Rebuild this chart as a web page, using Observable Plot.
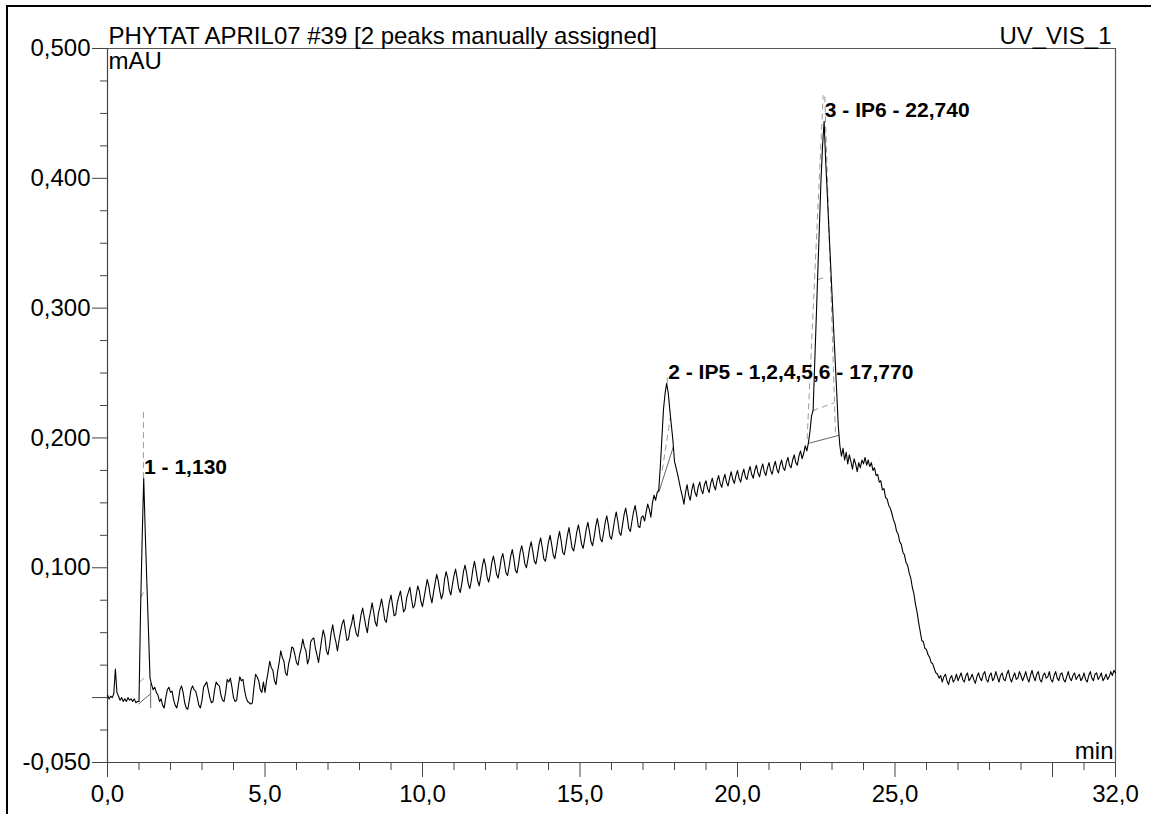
<!DOCTYPE html>
<html>
<head>
<meta charset="utf-8">
<script src="https://cdn.jsdelivr.net/npm/d3@7"></script>
<script src="https://cdn.jsdelivr.net/npm/@observablehq/plot@0.6"></script>
<style>
  html, body { margin: 0; padding: 0; background: #fff; overflow: hidden; }
  #wrap { position: relative; width: 1151px; height: 814px; }
  #border { position: absolute; left: 6px; top: 5px; width: 1200px; height: 900px;
            border-left: 2.5px solid #000; border-top: 2.5px solid #000; pointer-events: none; }
  svg { display: block; }
</style>
</head>
<body>
<div id="wrap"><div id="border"></div></div>
<script>
// ---------- data ----------
const title = "PHYTAT APRIL07 #39 [2 peaks manually assigned]";
const channel = "UV_VIS_1";
const yUnit = "mAU";
const xUnit = "min";

// detector signal, sampled every 0.05 min from 0,0 to 32,0 (values in 1/1000 of the axis unit)
const sampleStep = 0.05;
const signal = [
  2, -1, 1, 0, 3, 22, 4, 1, -2, 0, -3, -1, -3, 0, -2, -1, -3, -1, -4, -3,            // 0
  -3, 68, 122, 169, 126, 88, 52, 15, 10, 6, 8, 4, 2, -3, -1, -6, -8, 0, 6, 8,         // 1
  4, 5, -2, -6, -8, -2, 6, 9, 4, -4, -8, -9, -2, 6, 9, 6, 5, 0, -6, -8,               // 2
  -2, 8, 10, 12, 6, 0, -4, -3, 6, 12, 10, 9, 2, -2, -3, 4, 14, 12, 15, 8,             // 3
  0, -3, -2, 8, 16, 13, 14, 6, 0, -3, -4, -5, -4, 8, 18, 16, 13, 6, 4, 12,            // 4
  4, 13, 20, 28, 23, 21, 13, 10, 20, 27, 36, 31, 28, 19, 17, 26, 31, 39, 38, 33,      // 5
  27, 25, 33, 38, 45, 39, 36, 26, 30, 43, 45, 46, 38, 33, 27, 36, 45, 52, 47, 36,     // 6
  33, 40, 50, 56, 48, 43, 36, 44, 51, 57, 60, 52, 44, 45, 53, 57, 64, 55, 49, 47,     // 7
  56, 64, 69, 62, 55, 50, 60, 66, 73, 66, 58, 55, 65, 70, 76, 69, 60, 58, 66, 74,     // 8
  79, 71, 63, 64, 73, 78, 82, 74, 66, 68, 77, 81, 85, 76, 69, 71, 79, 86, 82, 74,     // 9
  70, 77, 84, 91, 86, 78, 73, 81, 88, 95, 90, 82, 76, 80, 91, 97, 92, 83, 79, 87,     // 10
  94, 99, 92, 84, 81, 88, 97, 102, 96, 88, 84, 90, 99, 105, 98, 90, 86, 93, 101, 107, // 11
  102, 93, 89, 95, 104, 109, 103, 95, 92, 99, 107, 111, 104, 96, 94, 101, 109, 114, 107, 98, // 12
  96, 103, 112, 117, 111, 103, 100, 107, 115, 120, 113, 105, 103, 110, 118, 123, 116, 107, 105, 112, // 13
  120, 125, 118, 110, 107, 114, 122, 128, 121, 112, 110, 117, 125, 131, 123, 115, 113, 120, 128, 133, // 14
  126, 118, 115, 122, 130, 135, 128, 120, 117, 124, 132, 138, 131, 122, 120, 127, 135, 140, 133, 124, // 15
  122, 129, 137, 143, 136, 127, 125, 133, 141, 146, 139, 130, 128, 136, 143, 148, 141, 132, 131, 139, // 16
  140, 136, 143, 149, 145, 139, 150, 156, 152, 158, 160, 178, 200, 222, 234, 242, 235, 222, 210, 198, // 17
  182, 177, 172, 166, 160, 155, 149, 158, 164, 156, 152, 160, 165, 158, 155, 162, 166, 160, 157, 164, // 18
  167, 161, 158, 165, 169, 163, 160, 167, 171, 165, 162, 168, 172, 166, 163, 169, 174, 168, 165, 171, // 19
  175, 169, 166, 172, 176, 170, 168, 174, 178, 172, 169, 175, 179, 173, 170, 176, 180, 174, 171, 177, // 20
  181, 175, 172, 178, 182, 176, 173, 179, 183, 177, 175, 181, 185, 179, 177, 183, 187, 181, 179, 186, // 21
  190, 184, 188, 194, 190, 196, 205, 217, 221, 257, 292, 328, 363, 398, 425, 444, 413, 388, 362, 337, // 22
  311, 285, 260, 235, 209, 194, 186, 192, 183, 189, 180, 187, 182, 176, 184, 180, 174, 181, 177, 183, // 23
  180, 185, 179, 183, 178, 181, 175, 177, 171, 172, 166, 167, 160, 161, 154, 153, 148, 146, 142, 137, // 24
  134, 128, 126, 120, 118, 112, 110, 104, 102, 96, 92, 85, 80, 72, 66, 58, 51, 44, 43, 38,           // 25
  37, 33, 31, 27, 26, 22, 19, 18, 15, 17, 12, 16, 18, 13, 10, 15, 17, 12, 14, 18,                   // 26
  13, 16, 19, 14, 12, 17, 19, 13, 15, 18, 14, 11, 16, 19, 15, 13, 18, 20, 14, 12,                   // 27
  17, 19, 13, 15, 20, 16, 12, 17, 19, 14, 13, 18, 21, 15, 12, 16, 19, 14, 15, 20,                   // 28
  17, 13, 16, 20, 15, 12, 17, 21, 16, 13, 18, 20, 14, 12, 17, 19, 15, 16, 20, 14,                   // 29
  12, 17, 20, 15, 13, 18, 19, 14, 12, 16, 20, 15, 13, 17, 19, 14, 16, 18, 13, 15,                   // 30
  19, 14, 12, 17, 20, 15, 13, 18, 19, 14, 16, 19, 13, 15, 18, 14, 16, 20, 17, 21,                   // 31
  19                                                                                                  // 32
];

// peaks
const peakNames = ["1 - 1,130", "2 - IP5 - 1,2,4,5,6 - 17,770", "3 - IP6 - 22,740"];
const peakTimes = [1.13, 17.77, 22.74];
const peakHeights = [169, 242, 444];

// integration baselines / delimiters (solid) : [t1, v1, t2, v2]
const solidT1 = [0.98, 1.37, 17.50, 22.28];
const solidV1 = [-5, 11, 158, 196];
const solidT2 = [1.37, 1.37, 17.96, 23.22];
const solidV2 = [3, -8, 193, 202];

// peak construction lines (dashed)
const dashT1 = [1.14, 1.05, 1.02, 17.77, 17.61, 22.21, 22.77, 22.54, 22.38];
const dashV1 = [169, 77, 12, 242, 175, 199, 463, 322, 221];
const dashT2 = [1.14, 1.21, 1.24, 17.77, 17.87, 22.72, 23.11, 22.83, 23.06];
const dashV2 = [221, 84, 17, 250, 216, 464, 203, 324, 227];

// axes
const xMajorTicks = [0, 5, 10, 15, 20, 25, 30, 32];
const xTickLabels = ["0,0", "5,0", "10,0", "15,0", "20,0", "25,0", "", "32,0"];
const xMinorTicks = [1, 2, 3, 4, 6, 7, 8, 9, 11, 12, 13, 14, 16, 17, 18, 19, 21, 22, 23, 24, 26, 27, 28, 29, 31];
const yMajorTicks = [-50, 0, 100, 200, 300, 400, 500];
const yTickLabels = ["-0,050", "", "0,100", "0,200", "0,300", "0,400", "0,500"];
const yMinorTicks = [-25, 25, 50, 75, 125, 150, 175, 225, 250, 275, 325, 350, 375, 425, 450, 475];

// ---------- chart ----------
const trace = signal.map((v, i) => ({t: i * sampleStep, v}));
const idxSolid = solidT1.map((_, i) => i);
const idxDash = dashT1.map((_, i) => i);
const font = "'Liberation Sans', Arial, Helvetica, sans-serif";
const axisColor = "#444";

const chart = Plot.plot({
  width: 1151,
  height: 814,
  marginLeft: 107,
  marginRight: 36,
  marginTop: 48,
  marginBottom: 52,
  style: {fontFamily: font, background: "transparent", color: "#000", overflow: "visible"},
  x: {domain: [0, 32]},
  y: {domain: [-50, 500]},
  marks: [
    Plot.ruleY([500], {stroke: "#555", strokeWidth: 1.2}),
    Plot.ruleX([32], {stroke: "#555", strokeWidth: 1.2}),
    Plot.ruleX([0], {stroke: axisColor, strokeWidth: 1.2}),
    Plot.ruleY([-50], {stroke: axisColor, strokeWidth: 1.2}),
    Plot.axisY(yMinorTicks, {tickSize: 7, tickFormat: () => "", label: null, stroke: axisColor}),
    Plot.axisY(yMajorTicks, {tickSize: 15, tickPadding: 2, label: null, stroke: axisColor, fill: "#000",
      fontSize: 24, tickFormat: d => yTickLabels[yMajorTicks.indexOf(d)]}),
    Plot.axisX(xMinorTicks, {tickSize: 8, tickFormat: () => "", label: null, stroke: axisColor}),
    Plot.axisX(xMajorTicks, {tickSize: 15, tickPadding: 7, label: null, stroke: axisColor, fill: "#000",
      fontSize: 24, tickFormat: d => xTickLabels[xMajorTicks.indexOf(d)]}),
    Plot.link(idxDash, {x1: i => dashT1[i], y1: i => dashV1[i], x2: i => dashT2[i], y2: i => dashV2[i],
      stroke: "#9a9a9a", strokeWidth: 1, strokeDasharray: "6,4"}),
    Plot.link(idxSolid, {x1: i => solidT1[i], y1: i => solidV1[i], x2: i => solidT2[i], y2: i => solidV2[i],
      stroke: "#666", strokeWidth: 1}),
    Plot.line(trace, {x: "t", y: "v", stroke: "#000", strokeWidth: 1.1}),
    Plot.text(peakNames, {x: (d, i) => peakTimes[i], y: (d, i) => peakHeights[i], text: d => d,
      textAnchor: "start", lineAnchor: "bottom", dx: 1, dy: -4,
      fontSize: 21, fontWeight: "bold", fill: "#000"}),
    Plot.text([title], {frameAnchor: "top-left", text: d => d, textAnchor: "start", lineAnchor: "bottom",
      dx: 1, dy: -5, fontSize: 24, fill: "#000"}),
    Plot.text([channel], {frameAnchor: "top-right", text: d => d, textAnchor: "end", lineAnchor: "bottom",
      dx: -4, dy: -5, fontSize: 24, fill: "#000"}),
    Plot.text([yUnit], {frameAnchor: "top-left", text: d => d, textAnchor: "start", lineAnchor: "bottom",
      dx: 1, dy: 20, fontSize: 24, fill: "#000"}),
    Plot.text([xUnit], {frameAnchor: "bottom-right", text: d => d, textAnchor: "end", lineAnchor: "bottom",
      dx: -2, dy: -4, fontSize: 24, fill: "#000"})
  ]
});

document.getElementById("wrap").insertBefore(chart, document.getElementById("border"));
</script>
</body>
</html>
